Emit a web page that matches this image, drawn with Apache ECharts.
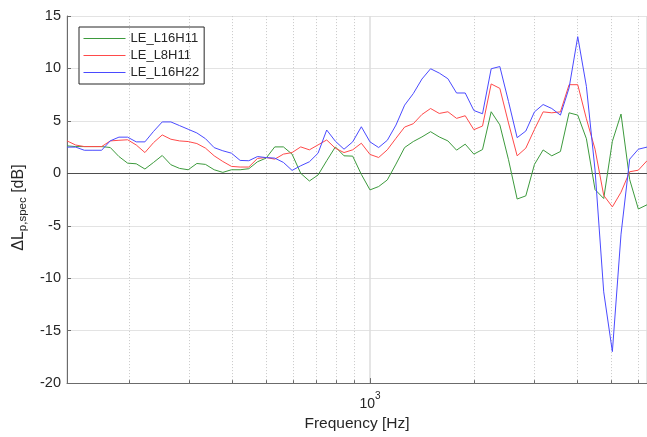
<!DOCTYPE html>
<html>
<head>
<meta charset="utf-8">
<script src="https://cdn.jsdelivr.net/npm/echarts@6/dist/echarts.min.js"></script>
<style>
html,body{margin:0;padding:0;background:#fff;}
#chart{width:647px;height:437px;}
</style>
</head>
<body>
<div id="chart"></div>
<script>
// 1/12-octave band centre frequencies [Hz]
const freqHz = [132.43, 140.31, 148.65, 157.49, 166.85, 176.78, 187.29, 198.43, 210.22, 222.72,
  235.97, 250.00, 264.87, 280.62, 297.30, 314.98, 333.71, 353.55, 374.58, 396.85,
  420.45, 445.45, 471.94, 500.00, 529.73, 561.23, 594.60, 629.96, 667.42, 707.11,
  749.15, 793.70, 840.90, 890.90, 943.87, 1000.00, 1059.46, 1122.46, 1189.21, 1259.92,
  1334.84, 1414.21, 1498.31, 1587.40, 1681.79, 1781.80, 1887.75, 2000.00, 2118.93, 2244.92,
  2378.41, 2519.84, 2669.68, 2828.43, 2996.61, 3174.80, 3363.59, 3563.59, 3775.50, 4000.00,
  4237.85, 4489.85, 4756.83, 5039.68, 5339.36, 5656.85, 5993.23, 6349.60];

const seriesNames = ['LE_L16H11', 'LE_L8H11', 'LE_L16H22'];

const le_L16H11 = [2.62, 2.55, 2.55, 2.55, 2.55, 2.46, 1.6, 0.97, 0.91, 0.41,
  1.04, 1.7, 0.82, 0.47, 0.34, 0.94, 0.85, 0.34, 0.09, 0.34,
  0.34, 0.44, 1.1, 1.45, 2.52, 2.52, 1.83, 0.0, -0.73, -0.16,
  1.2, 2.52, 1.67, 1.64, -0.1, -1.58, -1.26, -0.63, 0.88, 2.46,
  3.03, 3.47, 3.97, 3.47, 3.09, 2.21, 2.78, 1.83, 2.27, 5.87,
  4.62, 1.3, -2.45, -2.15, 0.85, 2.23, 1.67, 2.08, 5.77, 5.55,
  3.3, -1.55, -2.4, 3.05, 5.65, -0.6, -3.4, -3.0];

const le_L8H11 = [3.09, 2.7, 2.55, 2.55, 2.55, 3.09, 3.15, 3.2, 2.7, 1.98,
  2.93, 3.66, 3.25, 3.09, 3.03, 2.84, 2.4, 1.67, 1.13, 0.66,
  0.6, 0.6, 1.42, 1.51, 1.35, 1.83, 1.98, 2.52, 2.24, 2.71,
  3.18, 2.39, 1.98, 2.24, 2.87, 1.8, 1.51, 2.24, 3.34, 4.41,
  4.73, 5.61, 6.18, 5.71, 5.87, 5.24, 5.49, 4.16, 4.51, 8.52,
  8.1, 4.8, 1.67, 2.4, 4.19, 5.86, 5.77, 5.86, 8.45, 8.45,
  5.2, 2.3, -2.1, -3.2, -1.8, 0.15, 0.3, 1.2];

const le_L16H22 = [2.5, 2.5, 2.2, 2.2, 2.2, 3.1, 3.45, 3.45, 3.0, 3.0,
  4.0, 4.9, 4.9, 4.55, 4.2, 3.85, 3.3, 2.45, 2.15, 1.92,
  1.23, 1.2, 1.6, 1.5, 1.45, 1.04, 0.28, 0.72, 1.1, 1.92,
  4.13, 3.06, 2.3, 3.0, 4.44, 3.0, 2.46, 3.15, 4.6, 6.5,
  7.6, 8.99, 9.97, 9.56, 9.02, 7.66, 7.66, 5.99, 5.68, 9.97,
  10.18, 6.85, 3.4, 4.03, 5.86, 6.56, 6.18, 5.55, 8.14, 13.03,
  8.29, 0.3, -11.3, -17.0, -5.8, 1.35, 2.3, 2.5];

const minorGridHz = [200, 300, 400, 500, 600, 700, 800, 900, 2000, 3000, 4000, 5000, 6000];
const majorGridHz = [1000];
const yMin = -20, yMax = 15, yStep = 5;

const colors = ['#3d9a3d', '#ff4a4a', '#4a4aff'];
const FONT = '"Liberation Sans", Arial, Helvetica, sans-serif';
const TXT = '#262626';

const chart = echarts.init(document.getElementById('chart'), null, {renderer: 'canvas'});

const minorGridLines = minorGridHz.map(f => ({xAxis: f}));
const minorTicks = minorGridHz.map(f => [{coord: [f, yMin]}, {coord: [f, yMin + 0.28]}]);

const dataSets = [le_L16H11, le_L8H11, le_L16H22];
const lineSeries = dataSets.map((arr, i) => ({
  name: seriesNames[i],
  type: 'line',
  data: freqHz.map((f, j) => [f, arr[j]]),
  symbol: 'none',
  clip: true,
  lineStyle: {width: 1, color: colors[i]},
  itemStyle: {color: colors[i]},
  z: 5 + i,
  animation: false
}));

const option = {
  animation: false,
  backgroundColor: '#ffffff',
  textStyle: {fontFamily: FONT, color: TXT},
  grid: {left: 67, right: -5, top: 16, bottom: 51.3, containLabel: false},
  legend: {
    data: seriesNames,
    orient: 'vertical',
    left: 79,
    top: 27,
    padding: [5, 5, 5, 4],
    itemGap: 4,
    itemWidth: 42,
    itemHeight: 14,
    backgroundColor: '#ffffff',
    borderColor: '#262626',
    borderWidth: 1,
    borderRadius: 0,
    itemStyle: {opacity: 0},
    lineStyle: {width: 1},
    textStyle: {fontFamily: FONT, fontSize: 13, color: TXT}
  },
  xAxis: {
    type: 'log',
    logBase: 10,
    min: freqHz[0],
    max: freqHz[freqHz.length - 1],
    name: 'Frequency [Hz]',
    nameLocation: 'middle',
    nameGap: 25,
    nameTextStyle: {fontFamily: FONT, fontSize: 15.5, color: TXT},
    axisLine: {show: true, onZero: false, lineStyle: {color: '#6b6b6b', width: 1}},
    axisTick: {show: true, inside: true, length: 5, lineStyle: {color: '#6b6b6b'}},
    splitLine: {show: true, lineStyle: {color: '#dcdcdc', width: 1.5}},
    axisLabel: {
      margin: 8,
      showMinLabel: false,
      showMaxLabel: false,
      formatter: v => (majorGridHz.some(m => Math.abs(v - m) < 1) ? '{b|10}{s|3}' : ''),
      rich: {
        b: {fontFamily: FONT, fontSize: 14, color: TXT, lineHeight: 20, verticalAlign: 'bottom'},
        s: {fontFamily: FONT, fontSize: 10, color: TXT, lineHeight: 12, verticalAlign: 'top'}
      }
    }
  },
  yAxis: {
    type: 'value',
    min: yMin,
    max: yMax,
    interval: yStep,
    name: '{n|ΔL}{sub|p,spec}{n| [dB]}',
    nameLocation: 'middle',
    nameRotate: 90,
    nameGap: 25,
    nameTextStyle: {
      padding: [0, 16, 0, 0],
      rich: {
        n: {fontFamily: FONT, fontSize: 16, color: TXT, lineHeight: 22, verticalAlign: 'middle'},
        sub: {fontFamily: FONT, fontSize: 11.5, color: TXT, lineHeight: 13, verticalAlign: 'bottom'}
      }
    },
    axisLine: {show: true, lineStyle: {color: '#6b6b6b', width: 1}},
    axisTick: {show: true, inside: true, length: 4, lineStyle: {color: '#6b6b6b'}},
    splitLine: {show: true, lineStyle: {color: '#e3e3e3', width: 1}},
    axisLabel: {margin: 6, fontFamily: FONT, fontSize: 14.5, color: TXT}
  },
  series: [
    {
      name: '_grid',
      type: 'line',
      data: [],
      symbol: 'none',
      z: 1,
      silent: true,
      markLine: {
        silent: true,
        symbol: 'none',
        animation: false,
        label: {show: false},
        data: minorGridLines,
        lineStyle: {color: '#c8c8c8', type: [1, 2], width: 1}
      }
    },
    {
      name: '_ticks',
      type: 'line',
      data: [],
      symbol: 'none',
      z: 2,
      silent: true,
      markLine: {
        silent: true,
        symbol: 'none',
        animation: false,
        label: {show: false},
        data: minorTicks.concat([{yAxis: 0, lineStyle: {color: '#4d4d4d', type: 'solid', width: 1.2}}]),
        lineStyle: {color: '#6b6b6b', type: 'solid', width: 1}
      }
    }
  ].concat(lineSeries)
};

chart.setOption(option);
</script>
</body>
</html>
